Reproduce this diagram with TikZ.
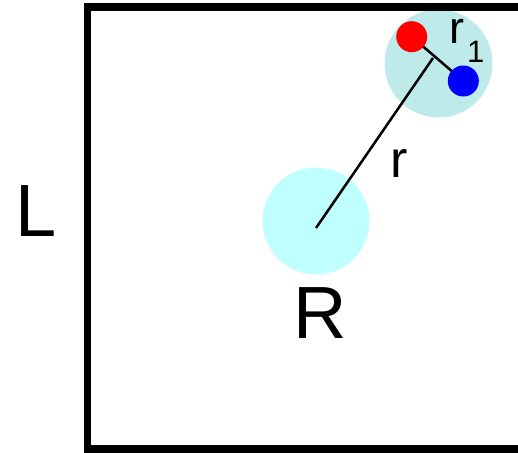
\documentclass[tikz,border=0pt]{standalone}
\usepackage{fontspec}
\setmainfont{Liberation Sans}
\usepackage{xcolor}
\usetikzlibrary{calc}

\definecolor{bigcyan}{RGB}{192,255,255}
\definecolor{smallcyan}{RGB}{190,234,234}

\begin{document}
\begin{tikzpicture}[
        x=1pt, y=-1pt,
        blob/.style={circle, draw=none, inner sep=0pt},
        dot/.style={circle, draw=none, inner sep=0pt, minimum size=31pt},
        bond/.style={line width=2.5pt, draw=black},
        lab/.style={inner sep=0pt, anchor=base, text=black}
    ]
        \useasboundingbox (0,0) rectangle (518,452);
        \clip (0,0) rectangle (518,452);

        % Nodes
        \node[blob, fill=bigcyan, minimum size=107pt] (R) at (316,221) {};
        \node[blob, fill=smallcyan, minimum size=108pt] (pair) at (438.5,63.5) {};
        \coordinate (o) at (316,228);
        \coordinate (m) at (433,58);

        % Edges
        \draw[bond] (o) -- (m);
        \draw[bond] (411.7,36.7) coordinate (p1) -- (463.3,81) coordinate (p2);
        \node[dot, fill=red] (red) at (p1) {};
        \node[dot, fill=blue] (blue) at (p2) {};

        % Frame
        \draw[line width=7.5pt] (87.5,7) rectangle (560,449);

        % Labels
        \node[lab, font=\fontsize{74}{74}\selectfont] (L) at (36,236) {L};
        \node[lab, font=\fontsize{74}{74}\selectfont] (Rlab) at (320.5,338) {R};
        \node[lab, font=\fontsize{52}{52}\selectfont] (rlab) at (399,177) {r};
        \node[lab, anchor=base west, font=\fontsize{45}{45}\selectfont] (r1lab) at (449,43)
            {r\kern3pt\raisebox{-20pt}{\fontsize{31}{31}\selectfont 1}};
\end{tikzpicture}
\end{document}
